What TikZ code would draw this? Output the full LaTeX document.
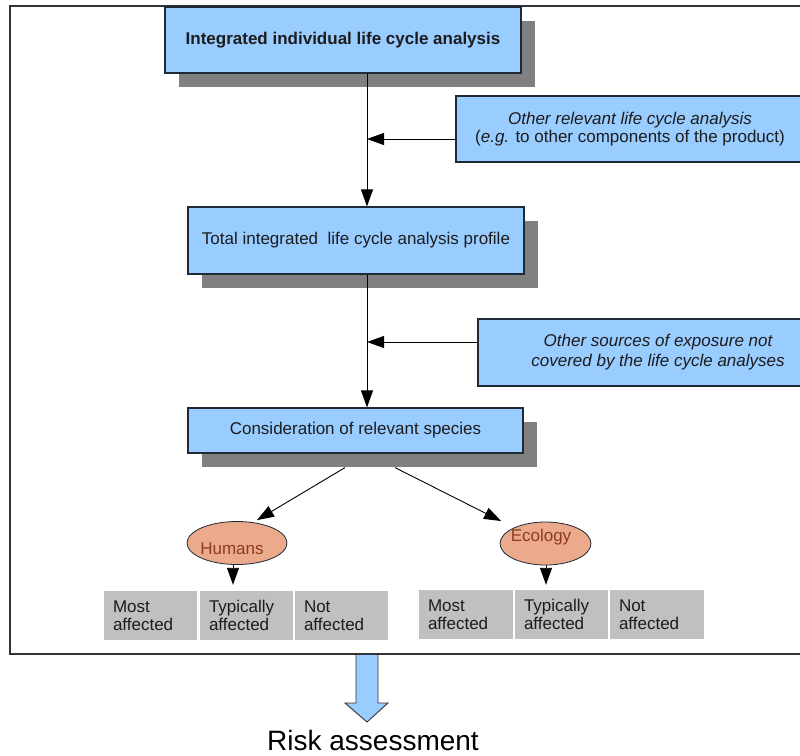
\documentclass[tikz,border=0pt]{standalone}
\usepackage{fontspec}
\setmainfont{Liberation Sans}
\usetikzlibrary{shadows,arrows.meta,calc,shapes.geometric}
\definecolor{boxblue}{HTML}{99CCFF}
\definecolor{boxedge}{HTML}{1E2A36}
\definecolor{shadowgray}{HTML}{808080}
\definecolor{cellgray}{HTML}{C0C0C0}
\definecolor{salmonfill}{HTML}{EBAA8C}
\definecolor{ellipsetext}{HTML}{8E3B1E}
\definecolor{framecol}{HTML}{333333}
\definecolor{textdark}{HTML}{1C1C1C}
\begin{document}
\begin{tikzpicture}[x=1pt,y=-1pt,
  txt/.style={font=\fontsize{17}{18.5}\selectfont, text=textdark},
  bluebox/.style={draw=boxedge, line width=1.2pt, fill=boxblue, inner sep=0pt, txt},
  shadowed/.style={drop shadow={shadow xshift=14pt, shadow yshift=-14pt, fill=shadowgray, opacity=1}},
  cell/.style={fill=cellgray, minimum width=#1, minimum height=49pt, text width=#1-18pt, inner xsep=9pt, inner ysep=0pt, align=left, txt},
  oval/.style={ellipse, draw=boxedge, line width=0.8pt, fill=salmonfill, inner sep=0pt},
  ovaltxt/.style={font=\fontsize{17}{18.5}\selectfont, text=ellipsetext},
  arr/.style={draw=black, line width=0.9pt, -{Triangle[length=17pt,width=12pt]}},
  frameline/.style={draw=framecol, line width=1.5pt},
]
\useasboundingbox (0,0) rectangle (800,755);

% outer frame
\draw[frameline] (812,6) -- (10,6) -- (10,654) -- (812,654);

% main boxes
\node[bluebox, shadowed, minimum width=356pt, minimum height=66pt, font=\fontsize{17}{18.5}\selectfont\bfseries] (b1) at (343,40) {Integrated individual life cycle analysis};
\node[bluebox, minimum width=356pt, minimum height=66pt] (b2) at (634,129) {};
\node[txt, align=center] (t2) at (630,129) {\textit{Other relevant life cycle analysis}\\(\textit{e.g.} to other components of the product)};
\node[bluebox, shadowed, minimum width=336pt, minimum height=67pt] (b3) at (356,240.5) {Total integrated\ \ life cycle analysis profile};
\node[bluebox, minimum width=334pt, minimum height=67pt] (b4) at (645,352.5) {};
\node[txt, align=center, font=\fontsize{17}{20}\selectfont\itshape] (t4) at (658,352.5) {Other sources of exposure not\\covered by the life cycle analyses};
\node[bluebox, shadowed, minimum width=335pt, minimum height=45pt] (b5) at (355.5,430.5) {Consideration of relevant species};

% main flow
\coordinate (j1) at (367,139);
\coordinate (j2) at (367,342);
\draw[arr] (b1.south -| j1) -- (b3.north -| j1);
\draw[arr] (b2.west |- j1) -- (j1);
\draw[arr] (b3.south -| j2) -- (b5.north -| j2);
\draw[arr] (b4.west |- j2) -- (j2);

% ellipses
\node[oval, minimum width=100pt, minimum height=43pt] (hum) at (237,543) {};
\node[ovaltxt] (humt) at (232,549) {Humans};
\node[oval, minimum width=91pt, minimum height=43pt] (eco) at (545.5,543.5) {};
\node[ovaltxt] (ecot) at (541,537) {Ecology};

\draw[arr] ($(b5.south)+(-10.5,14)$) -- ($(hum.north)+(20,-1)$);
\draw[arr] ($(b5.south)+(39.5,14)$) -- ($(eco.north west)+(-12,-7)$);

% cells
\node[cell=93pt] (h1) at (150.5,615.5) {Most\\affected};
\node[cell=93pt] (h2) at (246.5,615.5) {Typically\\affected};
\node[cell=93pt] (h3) at (341.5,615.5) {Not\\affected};
\node[cell=94pt] (e1) at (466,614.5) {Most\\affected};
\node[cell=93pt] (e2) at (561.5,614.5) {Typically\\affected};
\node[cell=94pt] (e3) at (657,614.5) {Not\\affected};

\coordinate (hx) at (233,0);
\coordinate (ex) at (546,0);
\draw[arr] (hum.south -| hx) -- ($(h2.north -| hx)+(0,-6)$);
\draw[arr] (eco.south -| ex) -- ($(e2.north -| ex)+(0,-5)$);

% block arrow
\draw[fill=boxblue, draw=framecol, line width=0.9pt]
  (356,654) -- (378,654) -- (378,703) -- (388,703) -- (367,722) -- (345,703) -- (356,703) -- cycle;
\draw[frameline] (10,654) -- (812,654);

\node[anchor=base, font=\fontsize{28}{30}\selectfont, text=black] (risk) at (373,750) {Risk assessment};
\end{tikzpicture}
\end{document}
